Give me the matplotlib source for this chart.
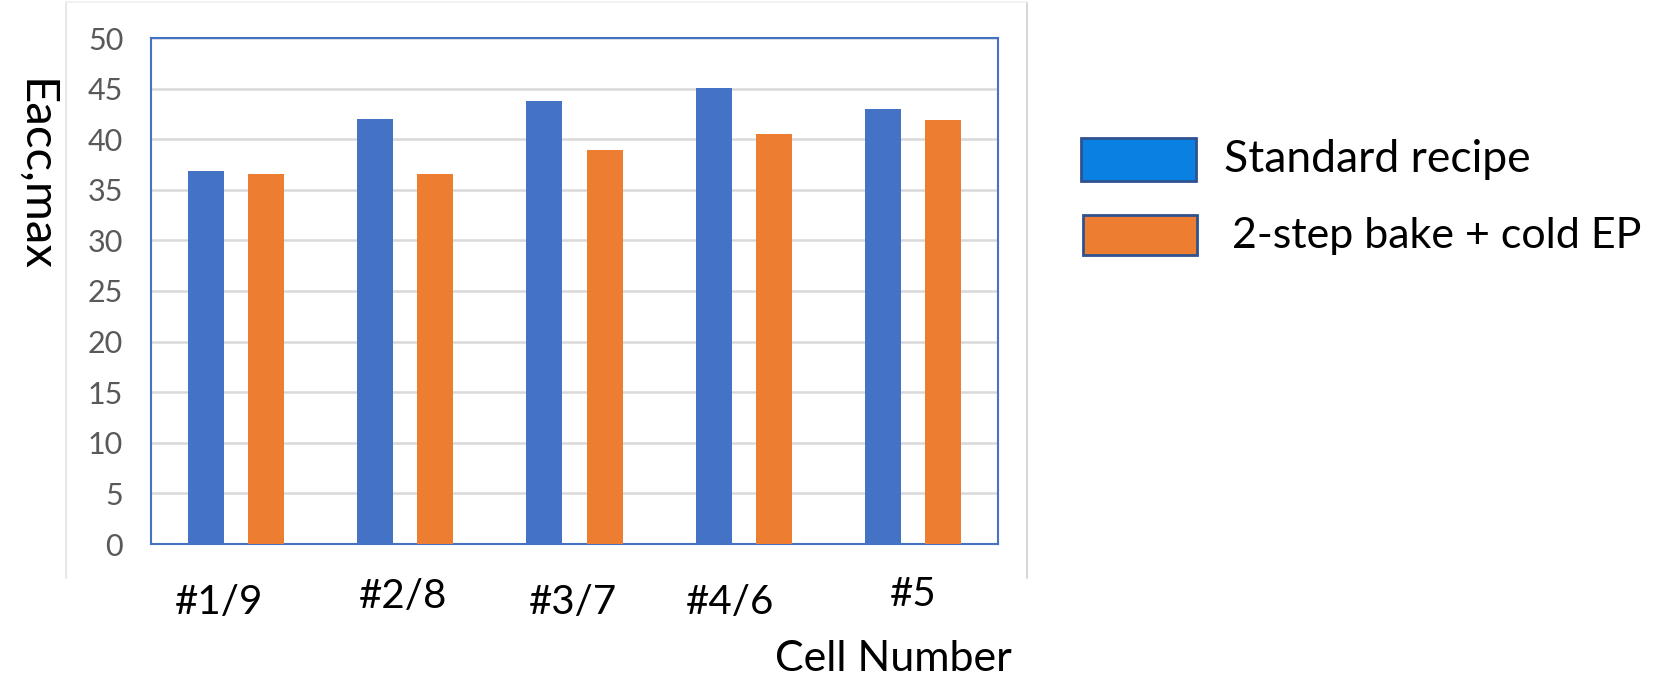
import matplotlib
matplotlib.use("Agg")
import matplotlib.pyplot as plt
from matplotlib.patches import Rectangle
from matplotlib.lines import Line2D
import numpy as np

categories = ["#1/9", "#2/8", "#3/7", "#4/6", "#5"]
standard = [36.9, 42.0, 43.8, 45.1, 43.0]
two_step = [36.6, 36.6, 38.9, 40.5, 41.9]
series_names = ["Standard recipe", "2-step bake + cold EP"]
y_ticks = [0, 5, 10, 15, 20, 25, 30, 35, 40, 45, 50]

W, H = 1665, 675
plt.rcParams['font.family'] = ['Lato', 'DejaVu Sans']
fig = plt.figure(figsize=(W / 100, H / 100), dpi=100)

def fx(px):
    return px / W

def fy(py):
    return 1 - py / H

# faint chart-area border (left / right / top only)
for (x0, y0, x1, y1, c) in [(66, 2, 66, 578, "#E3E3E3"),
                             (1027, 2, 1027, 578, "#D0D0D0"),
                             (66, 2, 1027, 2, "#F0F0F0")]:
    fig.add_artist(Line2D([fx(x0), fx(x1)], [fy(y0), fy(y1)],
                          transform=fig.transFigure, color=c, linewidth=1.2))

ax = fig.add_axes([fx(151), fy(544), fx(998 - 151), fy(38) - fy(544)])
x = np.arange(len(categories))
bw = 0.212
off = 0.178
ax.bar(x - off, standard, bw, color="#4472C4", zorder=3)
ax.bar(x + off, two_step, bw, color="#ED7D31", zorder=3)

ax.set_xlim(-0.5, len(categories) - 0.5)
ax.set_ylim(0, 50)
ax.set_yticks(y_ticks)
ax.set_yticklabels([str(t) for t in y_ticks], fontsize=22, color="#595959")
ax.tick_params(axis='y', length=0, pad=20)
ax.tick_params(axis='x', length=0)
ax.set_xticks([])
ax.yaxis.grid(True, color="#D9D9D9", linewidth=1.8, zorder=0)
for s in ax.spines.values():
    s.set_color("#4472C4")
    s.set_linewidth(1.5)

# category labels (manually placed text boxes in original)
label_dx = [-0.10, -0.01, -0.01, -0.08, 0.0]
label_dy = [0, 7, 0, 0, 8]
for i, lab in enumerate(categories):
    ax.annotate(lab, xy=(i + label_dx[i], 0), xycoords=('data', 'axes fraction'),
                xytext=(0, -59 + label_dy[i]), textcoords='offset pixels',
                ha='center', va='center', fontsize=29, color="black")

fig.text(fx(893), fy(659), "Cell Number", ha='center', va='center', fontsize=31)
fig.text(fx(35), fy(175), "Eacc,max", ha='center', va='center', fontsize=34,
         rotation=270)

# legend
fig.patches.append(Rectangle((fx(1081), fy(181)), fx(1196 - 1081), fy(138) - fy(181),
                             transform=fig.transFigure, facecolor="#0A80E2",
                             edgecolor="#2F528F", linewidth=2))
fig.patches.append(Rectangle((fx(1083), fy(255)), fx(1197 - 1083), fy(215) - fy(255),
                             transform=fig.transFigure, facecolor="#ED7D31",
                             edgecolor="#2F528F", linewidth=2))
fig.text(fx(1224), fy(159), series_names[0], ha='left', va='center', fontsize=32)
fig.text(fx(1232), fy(236), series_names[1], ha='left', va='center', fontsize=31)

fig.savefig("out.png", dpi=100)
